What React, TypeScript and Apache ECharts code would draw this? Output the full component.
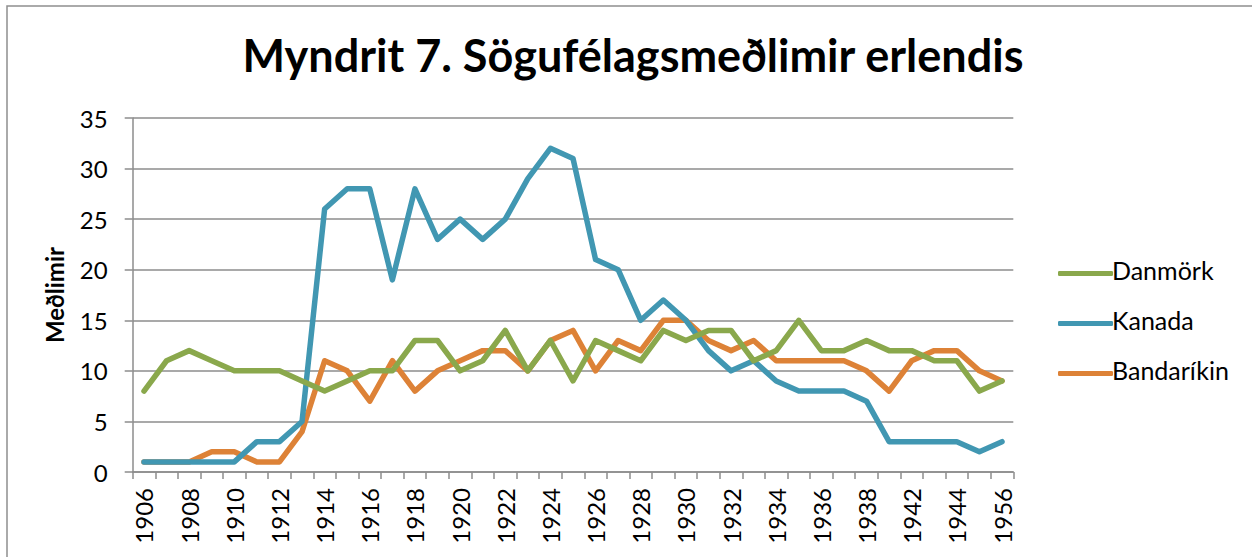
import React, { useEffect, useRef } from "react";
import * as echarts from "echarts";

const categories = [
  "1906", "1907", "1908", "1909", "1910", "1911", "1912", "1913", "1914", "1915",
  "1916", "1917", "1918", "1919", "1920", "1921", "1922", "1923", "1924", "1925",
  "1926", "1927", "1928", "1929", "1930", "1931", "1932", "1933", "1934", "1935",
  "1936", "1937", "1938", "1940", "1942", "1943", "1944", "1946", "1956",
];

const danmork = [8, 11, 12, 11, 10, 10, 10, 9, 8, 9, 10, 10, 13, 13, 10, 11, 14, 10, 13, 9, 13, 12, 11, 14, 13, 14, 14, 11, 12, 15, 12, 12, 13, 12, 12, 11, 11, 8, 9];
const kanada = [1, 1, 1, 1, 1, 3, 3, 5, 26, 28, 28, 19, 28, 23, 25, 23, 25, 29, 32, 31, 21, 20, 15, 17, 15, 12, 10, 11, 9, 8, 8, 8, 7, 3, 3, 3, 3, 2, 3];
const bandarikin = [1, 1, 1, 2, 2, 1, 1, 4, 11, 10, 7, 11, 8, 10, 11, 12, 12, 10, 13, 14, 10, 13, 12, 15, 15, 13, 12, 13, 11, 11, 11, 11, 10, 8, 11, 12, 12, 10, 9];

const seriesNames = ["Danmörk", "Kanada", "Bandaríkin"];
const seriesColors = ["#8aa84c", "#4197b2", "#dd8237"];
const yTicks = { min: 0, max: 35, interval: 5 };

const FONT = "Lato, 'Noto Sans', sans-serif";

export default function App() {
  const ref = useRef<HTMLDivElement>(null);
  useEffect(() => {
    if (!ref.current) return;
    const chart = echarts.init(ref.current, null, { renderer: "svg" });
    const values = [danmork, kanada, bandarikin];
    chart.setOption({
      animation: false,
      backgroundColor: "#ffffff",
      textStyle: { fontFamily: FONT },
      title: {
        text: "Myndrit 7. Sögufélagsmeðlimir erlendis",
        left: 628,
        textAlign: "center",
        top: 27,
        textStyle: { fontFamily: FONT, fontSize: 45, fontWeight: "bold", color: "#000" },
      },
      graphic: [
        {
          type: "rect",
          shape: { x: 7, y: 6, width: 1400, height: 700 },
          style: { fill: "none", stroke: "#8f8f8f", lineWidth: 1.5 },
          silent: true,
        },
      ],
      legend: {
        orient: "vertical",
        left: 1053,
        top: 252,
        icon: "roundRect",
        itemWidth: 55,
        itemHeight: 5,
        itemGap: 17,
        data: seriesNames,
        formatter: "{a|{name}}\n{b| }",
        textStyle: {
          fontFamily: FONT,
          fontSize: 25,
          color: "#000",
          padding: [0, 0, 0, -6],
          rich: {
            a: { fontFamily: FONT, fontSize: 25, color: "#000" },
            b: { fontSize: 8, lineHeight: 8 },
          },
        },
      },
      grid: { left: 132.7, right: 238.7, top: 118, bottom: 85 },
      xAxis: {
        type: "category",
        data: categories,
        boundaryGap: true,
        axisLine: { lineStyle: { color: "#8c8c8c", width: 1.5 } },
        axisTick: { show: true, interval: 0, length: 7, lineStyle: { color: "#8c8c8c", width: 1.5 } },
        axisLabel: {
          interval: 1,
          rotate: 90,
          margin: 16,
          fontFamily: FONT,
          fontSize: 24,
          color: "#000",
        },
      },
      yAxis: {
        type: "value",
        min: yTicks.min,
        max: yTicks.max,
        interval: yTicks.interval,
        name: "Meðlimir",
        nameLocation: "middle",
        nameGap: 66,
        nameRotate: 90,
        nameTextStyle: { fontFamily: FONT, fontSize: 24, fontWeight: "bold", color: "#000" },
        axisLine: { show: true, lineStyle: { color: "#8c8c8c", width: 1.5 } },
        axisTick: { show: true, length: 8, lineStyle: { color: "#8c8c8c", width: 1.5 } },
        axisLabel: { margin: 25, fontFamily: FONT, fontSize: 24, color: "#000" },
        splitLine: { show: true, lineStyle: { color: "#8c8c8c", width: 1.5 } },
      },
      series: seriesNames.map((name, i) => ({
        name,
        type: "line",
        data: values[i],
        symbol: "none",
        color: seriesColors[i],
        itemStyle: { color: seriesColors[i] },
        lineStyle: { width: 5.5, color: seriesColors[i], cap: "round", join: "round" },
        z: 3 - i,
      })),
    });
    return () => chart.dispose();
  }, []);
  return (
    <div
      ref={ref}
      style={{ position: "fixed", left: 0, top: 0, width: 1252, height: 557 }}
    />
  );
}
